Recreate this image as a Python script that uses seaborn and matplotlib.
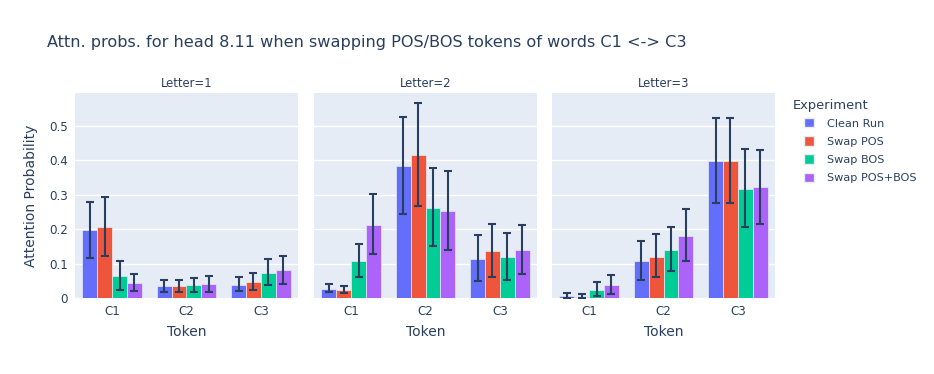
import pandas as pd
import matplotlib.pyplot as plt
import seaborn as sns
from matplotlib.patches import Patch

# Dados
letters = [1, 2, 3]
tokens = ["C1", "C2", "C3"]
experiments = ["Clean Run", "Swap POS", "Swap BOS", "Swap POS+BOS"]
colors = ["#636EFA", "#EF553B", "#00CC96", "#AB63FA"]

# médias [letter][token][experiment]
means = [
    [[0.197, 0.206, 0.065, 0.044], [0.034, 0.034, 0.037, 0.041], [0.039, 0.046, 0.073, 0.080]],
    [[0.027, 0.023, 0.107, 0.213], [0.385, 0.416, 0.263, 0.253], [0.114, 0.137, 0.119, 0.141]],
    [[0.006, 0.004, 0.024, 0.038], [0.109, 0.120, 0.141, 0.181], [0.398, 0.398, 0.318, 0.322]],
]
lows = [
    [[0.116, 0.121, 0.022, 0.019], [0.016, 0.016, 0.016, 0.016], [0.019, 0.022, 0.037, 0.042]],
    [[0.017, 0.014, 0.060, 0.129], [0.245, 0.268, 0.151, 0.141], [0.049, 0.062, 0.053, 0.071]],
    [[0.000, 0.000, 0.007, 0.012], [0.052, 0.060, 0.079, 0.107], [0.276, 0.275, 0.205, 0.214]],
]
highs = [
    [[0.279, 0.294, 0.109, 0.071], [0.053, 0.053, 0.059, 0.065], [0.060, 0.073, 0.113, 0.121]],
    [[0.041, 0.036, 0.156, 0.301], [0.526, 0.567, 0.379, 0.370], [0.184, 0.214, 0.188, 0.212]],
    [[0.014, 0.012, 0.046, 0.067], [0.167, 0.185, 0.206, 0.260], [0.524, 0.524, 0.434, 0.430]],
]

rows = []
for li, letter in enumerate(letters):
    for ti, tok in enumerate(tokens):
        for ei, exp in enumerate(experiments):
            rows.append({"Letter": letter, "Token": tok, "Experiment": exp,
                         "mean": means[li][ti][ei], "lo": lows[li][ti][ei], "hi": highs[li][ti][ei]})
df = pd.DataFrame(rows)

text_color = "#2a3f5f"
bg = "#E5ECF6"
plt.rcParams["font.family"] = ["DejaVu Sans"]

fig = plt.figure(figsize=(9.34, 3.74), dpi=100)
lefts = [75, 314, 552]
pw, top, bottom = 223, 93, 298
W, H = 934, 374

for i, letter in enumerate(letters):
    ax = fig.add_axes([lefts[i] / W, 1 - bottom / H, pw / W, (bottom - top) / H])
    sub = df[df["Letter"] == letter]
    sns.barplot(data=sub, x="Token", y="mean", hue="Experiment", order=tokens,
                hue_order=experiments, palette=colors, errorbar=None, width=0.8,
                saturation=1, edgecolor=bg, linewidth=0.5, ax=ax, legend=False)
    # barras de erro a partir das posições dos patches
    bar_containers = list(ax.containers)
    for ei, cont in enumerate(bar_containers):
        exp = experiments[ei]
        for ti, bar in enumerate(cont):
            r = sub[(sub["Token"] == tokens[ti]) & (sub["Experiment"] == exp)].iloc[0]
            xc = bar.get_x() + bar.get_width() / 2
            ax.errorbar(xc, r["mean"], yerr=[[r["mean"] - r["lo"]], [r["hi"] - r["mean"]]],
                        fmt="none", ecolor=text_color, elinewidth=1.5, capsize=2.8, capthick=1.5,
                        zorder=5)
    ax.set_facecolor(bg)
    ax.set_ylim(0, 0.596)
    ax.set_xlim(-0.5, 2.5)
    ax.set_yticks([0, 0.1, 0.2, 0.3, 0.4, 0.5])
    ax.grid(axis="y", color="white", linewidth=1)
    ax.set_axisbelow(True)
    for s in ax.spines.values():
        s.set_visible(False)
    ax.tick_params(length=0, colors=text_color, labelsize=8.6, pad=5)
    ax.set_yticklabels(["0", "0.1", "0.2", "0.3", "0.4", "0.5"] if i == 0 else [])
    ax.set_xlabel("Token", color=text_color, fontsize=10, labelpad=5)
    if i == 0:
        ax.set_ylabel("Attention Probability", color=text_color, fontsize=10, labelpad=8)
    else:
        ax.set_ylabel("")
    ax.set_title(f"Letter={letter}", color=text_color, fontsize=8.4, pad=4)

fig.text(47 / W, 1 - 42 / H, "Attn. probs. for head 8.11 when swapping POS/BOS tokens of words C1 <-> C3",
         color=text_color, fontsize=11.6, va="center", ha="left")

# legenda
fig.text(793 / W, 1 - 105 / H, "Experiment", color=text_color, fontsize=9.4, va="center", ha="left")
handles = [Patch(facecolor=c, edgecolor=bg, label=e) for c, e in zip(colors, experiments)]
leg = fig.legend(handles=handles, loc="upper left",
                 bbox_to_anchor=(804 / W, 1 - 118 / H), frameon=False, fontsize=8.1,
                 handlelength=0.9, handleheight=0.9, labelspacing=0.68,
                 handletextpad=1.15, borderpad=0, borderaxespad=0)
for t in leg.get_texts():
    t.set_color(text_color)

fig.savefig("out.png", dpi=100, facecolor="white")
